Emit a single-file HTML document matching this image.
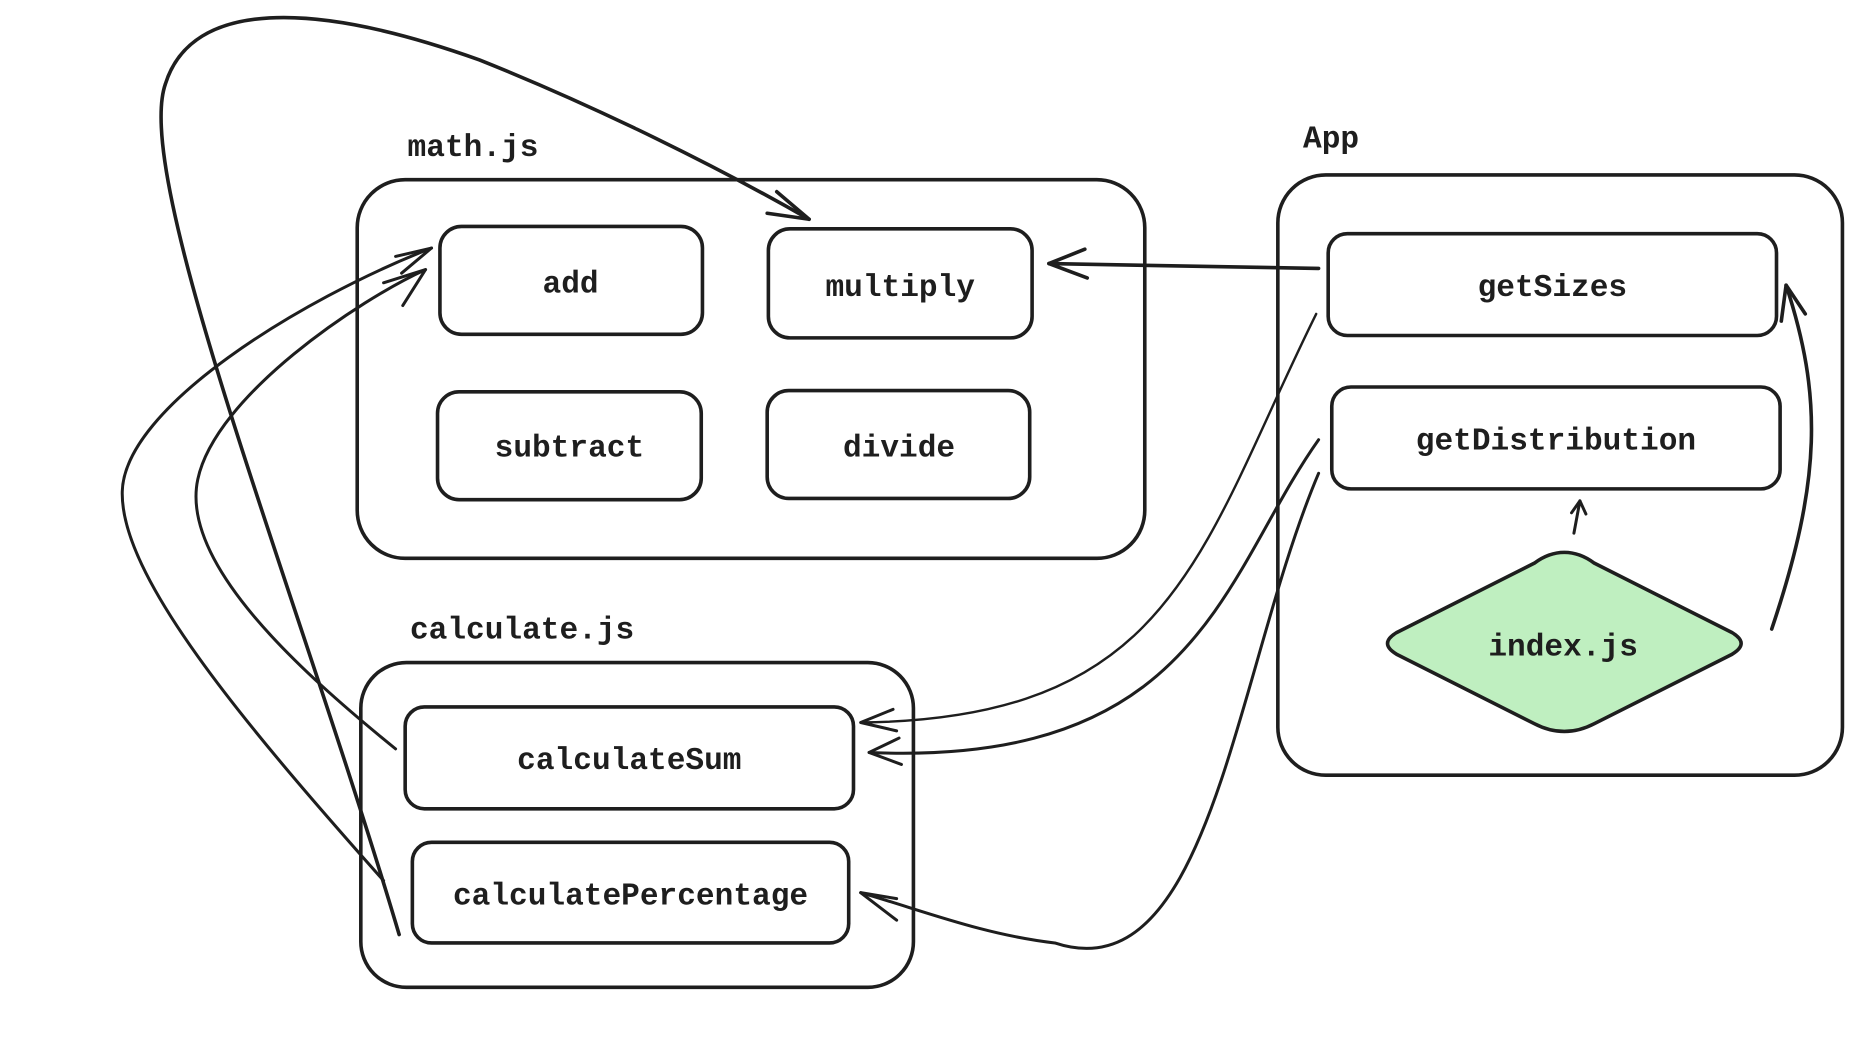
<!DOCTYPE html>
<html><head><style>
html,body{margin:0;padding:0;background:#fff;}
svg{display:block;}
text{font-family:"Liberation Mono",monospace;font-size:26px;fill:#1e1e1e;font-weight:bold;}
</style></head><body>
<svg width="1876" height="1058" viewBox="0 0 1565 883" preserveAspectRatio="none" xmlns="http://www.w3.org/2000/svg">
<g fill="none" stroke="#1e1e1e" stroke-width="3" stroke-linecap="round" stroke-linejoin="round">
<rect x="298" y="150" width="657" height="316" rx="40"/>
<rect x="367" y="189" width="219" height="90" rx="18"/>
<rect x="641" y="191" width="220" height="91" rx="18"/>
<rect x="365" y="327" width="220" height="90" rx="18"/>
<rect x="640" y="326" width="219" height="90" rx="18"/>
<rect x="301" y="553" width="461" height="271" rx="38"/>
<rect x="338" y="590" width="374" height="85" rx="16"/>
<rect x="344" y="703" width="364" height="84" rx="16"/>
<rect x="1066" y="146" width="471" height="501" rx="40"/>
<rect x="1108" y="195" width="374" height="85" rx="16"/>
<rect x="1111" y="323" width="374" height="85" rx="16"/>
<path d="M1305,461 Q1318,461 1330,470 L1445,528 Q1460,537 1445,546 L1330,604 Q1305,617 1280,604 L1165,546 Q1150,537 1165,528 L1280,470 Q1292,461 1305,461Z" fill="#bfefc0"/>
<path d="M333,780 C250,500 110,150 138,70 C160,0 260,0 400,50 C500,90 600,140 675,183"/>
<path d="M648,160 L675,183 L640,178"/>
<path d="M330,625 C250,560 150,470 165,400 C180,330 300,250 355,225" stroke-width="2.5"/>
<path d="M336,255 L355,225 L320,236" stroke-width="2.5"/>
<path d="M320,735 C200,600 100,480 102,410 C104,340 250,250 360,207" stroke-width="2.5"/>
<path d="M330,214 L360,207 L335,228" stroke-width="2.5"/>
<path d="M1100,224 L875,220"/>
<path d="M905,208 L875,220 L907,232"/>
<path d="M1098,262 C1000,460 980,600 718,603" stroke-width="2"/>
<path d="M745,592 L718,603 L748,610" stroke-width="2.5"/>
<path d="M1100,367 C1020,480 1000,640 725,628" stroke-width="2.5"/>
<path d="M750,616 L725,628 L752,638" stroke-width="2.5"/>
<path d="M1100,395 C1030,560 1010,830 880,787 C820,780 770,760 718,745" stroke-width="2.5"/>
<path d="M748,768 L718,745 L748,750" stroke-width="2.5"/>
<path d="M1478,525 C1520,400 1520,330 1490,238"/>
<path d="M1486,268 L1490,238 L1506,262"/>
<path d="M1313,445 L1318,418" stroke-width="2.5"/>
<path d="M1311,428 L1318,418 L1323,429" stroke-width="2.5"/>
</g>
<text x="340" y="130">math.js</text>
<text x="342" y="533">calculate.js</text>
<text x="1087" y="123">App</text>
<text x="476" y="244" text-anchor="middle">add</text>
<text x="751" y="247" text-anchor="middle">multiply</text>
<text x="475" y="381" text-anchor="middle">subtract</text>
<text x="750" y="381" text-anchor="middle">divide</text>
<text x="525" y="642" text-anchor="middle">calculateSum</text>
<text x="526" y="755" text-anchor="middle">calculatePercentage</text>
<text x="1295" y="247" text-anchor="middle">getSizes</text>
<text x="1298" y="375" text-anchor="middle">getDistribution</text>
<text x="1304" y="547" text-anchor="middle">index.js</text>
</svg>
</body></html>
